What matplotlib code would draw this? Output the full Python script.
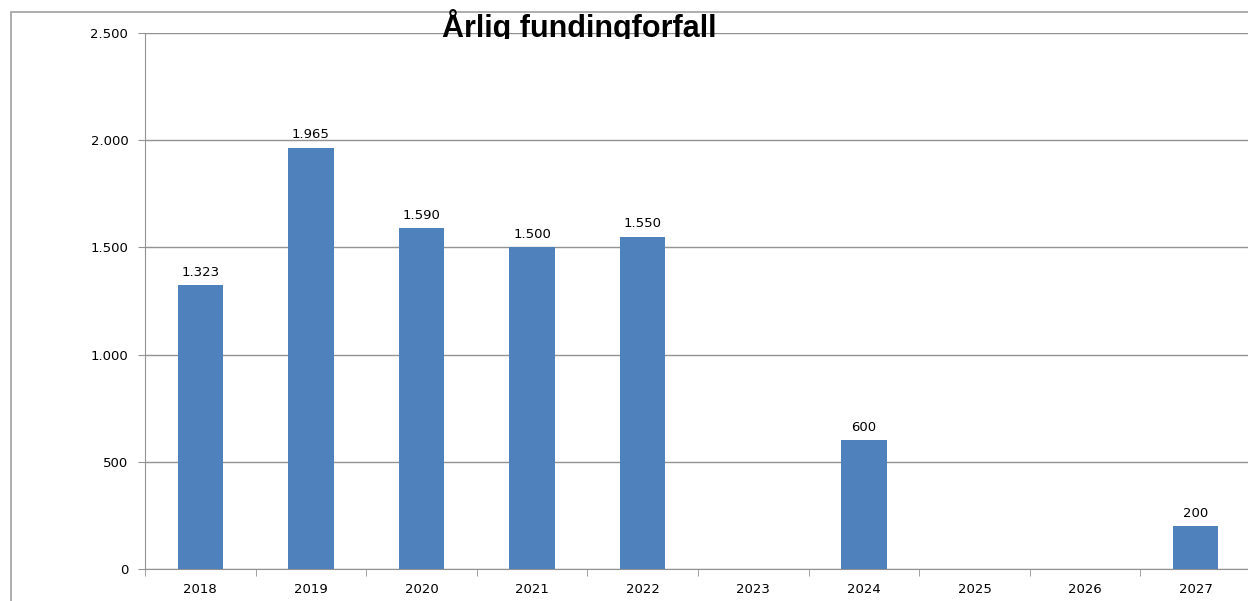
import numpy as np
import matplotlib.pyplot as plt
from matplotlib.patches import Rectangle
from matplotlib.ticker import FuncFormatter
from matplotlib.transforms import Bbox, TransformedBbox

years = ['2018', '2019', '2020', '2021', '2022', '2023', '2024', '2025', '2026', '2027']
values = [1323, 1965, 1590, 1500, 1550, 0, 600, 0, 0, 200]
title = 'Årlig fundingforfall'

W, H = 1248, 601
fig = plt.figure(figsize=(W / 100, H / 100), dpi=100)

# outer chart frame (runs off right and bottom edge)
fig.patches.append(Rectangle((10.5 / W, -0.1), 1.2, 1 - 12 / H + 0.1, transform=fig.transFigure,
                             fill=False, edgecolor='#a0a0a0', linewidth=1.2))

ax = fig.add_axes([145 / W, 32 / H, 1106 / W, 536 / H])
x = np.arange(len(years))
bars = ax.bar(x, values, width=0.41, color='#4F81BD', zorder=3)

for xi, v in zip(x, values):
    if v > 0:
        ax.text(xi, v + 30, f'{v:,}'.replace(',', '.'), ha='center', va='bottom', fontsize=9.5)

ax.set_xlim(-0.5, len(years) - 0.5)
ax.set_ylim(0, 2500)
ax.set_yticks(np.arange(0, 2501, 500))
ax.yaxis.set_major_formatter(FuncFormatter(lambda v, p: f'{int(v):,}'.replace(',', '.')))
ax.yaxis.grid(True, color='#929292', linewidth=1.0, zorder=0)

ax.set_xticks(x)
ax.set_xticklabels(years)
ax.set_xticks(np.arange(-0.5, len(years), 1), minor=True)
ax.tick_params(axis='x', which='major', length=0, pad=10, labelsize=9.5)
ax.tick_params(axis='x', which='minor', length=5, color='#929292', direction='out')
ax.tick_params(axis='y', length=5, color='#929292', pad=7, labelsize=9.5)

for s in ['top', 'right']:
    ax.spines[s].set_visible(False)
ax.spines['left'].set_color('#929292')
ax.spines['bottom'].set_color('#929292')

# title sits low and its descenders are cut off, as in the original
t = fig.text(579 / W, 1 - 37 / H, title, ha='center', va='baseline', fontsize=22,
             fontweight='bold', family='Liberation Sans', zorder=10)
t.set_clip_box(TransformedBbox(Bbox([[0, 1 - 39 / H], [1, 1]]), fig.transFigure))
t.set_clip_on(True)

fig.savefig('out.png', dpi=100)
